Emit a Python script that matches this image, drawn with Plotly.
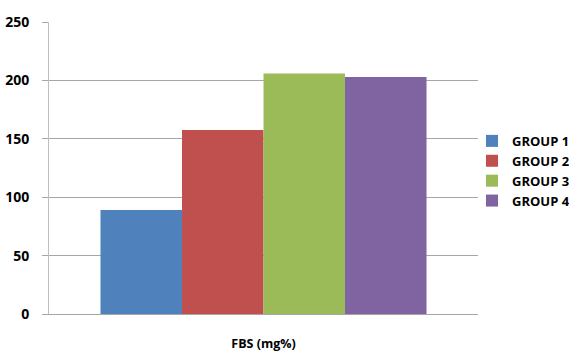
import plotly.graph_objects as go

categories = ["FBS (mg%)"]
groups = ["GROUP 1", "GROUP 2", "GROUP 3", "GROUP 4"]
values = [89, 157.5, 206, 203]
colors = ["#4F81BD", "#C0504D", "#9BBB59", "#8064A2"]
y_ticks = [0, 50, 100, 150, 200, 250]

fig = go.Figure()
for g, v, c in zip(groups, values, colors):
    fig.add_trace(go.Bar(x=categories, y=[v], name=g, marker=dict(color=c, line=dict(width=0))))

font_family = "'Open Sans', sans-serif"
fig.update_layout(
    width=569, height=351,
    margin=dict(l=49, r=91, t=22, b=37, autoexpand=False),
    paper_bgcolor="white", plot_bgcolor="white",
    barmode="group", bargap=0.24, bargroupgap=0,
    showlegend=True,
    legend=dict(x=(472 - 49) / 429, y=0.49, xanchor="left", yanchor="middle",
                font=dict(family=font_family, size=13, color="#000000", weight="bold"),
                tracegroupgap=0, itemwidth=30, bgcolor="rgba(0,0,0,0)"),
    font=dict(family=font_family, color="#000000"),
)
fig.update_yaxes(range=[0, 250], tickvals=y_ticks, showgrid=True, gridcolor="#A6A6A6", gridwidth=1,
                 showline=True, linecolor="#BFBFBF", linewidth=1,
                 ticks="outside", ticklen=6, tickcolor="#A6A6A6",
                 ticklabelstandoff=10,
                 tickfont=dict(family=font_family, size=14, color="#000000", weight="bold"),
                 zeroline=False)
fig.update_xaxes(showline=True, linecolor="#A6A6A6", linewidth=1,
                 ticks="outside", ticklen=18, tickcolor="rgba(0,0,0,0)",
                 tickfont=dict(family=font_family, size=12.5, color="#000000", weight="bold"))
fig.write_html("out.html", config={"displayModeBar": False, "staticPlot": True},
               post_script="document.body.style.margin='0';")
